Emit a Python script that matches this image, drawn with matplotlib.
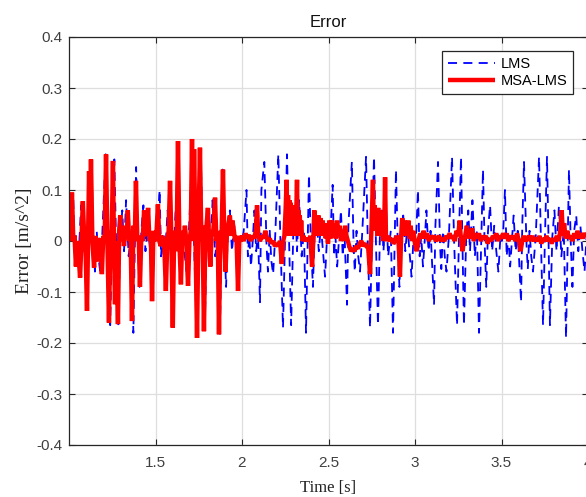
import matplotlib
matplotlib.use("Agg")
import matplotlib.pyplot as plt

# LMS error (blue dashed), one row per half second
lms_t = [
    1.000, 1.010, 1.024, 1.032, 1.040, 1.050, 1.060, 1.070, 1.080, 1.090, 1.104, 1.112, 1.130, 1.142, 1.150,
    1.160, 1.170, 1.180, 1.192, 1.212, 1.222, 1.238, 1.250, 1.262, 1.272, 1.285, 1.296, 1.308, 1.318, 1.330,
    1.345, 1.360, 1.372, 1.388, 1.398, 1.408, 1.418, 1.430, 1.442, 1.455, 1.470, 1.480, 1.492,
    1.500, 1.510, 1.524, 1.532, 1.540, 1.550, 1.560, 1.570, 1.580, 1.590, 1.604, 1.612, 1.630, 1.642, 1.650,
    1.660, 1.670, 1.680, 1.692, 1.712, 1.722, 1.738, 1.750, 1.762, 1.772, 1.785, 1.796, 1.808, 1.818, 1.830,
    1.845, 1.860, 1.872, 1.888, 1.898, 1.908, 1.918, 1.930, 1.942, 1.955, 1.970, 1.980, 1.992,
    2.000, 2.010, 2.026, 2.034, 2.042, 2.052, 2.062, 2.072, 2.082, 2.092, 2.104, 2.112, 2.129, 2.142, 2.150,
    2.160, 2.170, 2.180, 2.192, 2.210, 2.222, 2.237, 2.250, 2.260, 2.272, 2.284, 2.296, 2.308, 2.318, 2.330,
    2.345, 2.358, 2.370, 2.387, 2.398, 2.410, 2.420, 2.432, 2.444, 2.456, 2.468, 2.480, 2.492,
    2.500, 2.512, 2.524, 2.532, 2.540, 2.550, 2.560, 2.572, 2.582, 2.592, 2.607, 2.615, 2.635, 2.645, 2.652,
    2.662, 2.672, 2.682, 2.694, 2.717, 2.727, 2.740, 2.752, 2.763, 2.774, 2.786, 2.797, 2.808, 2.818, 2.830,
    2.845, 2.860, 2.873, 2.890, 2.900, 2.910, 2.920, 2.932, 2.944, 2.956, 2.968, 2.980, 2.992,
    3.000, 3.008, 3.017, 3.027, 3.036, 3.046, 3.056, 3.066, 3.078, 3.090, 3.110, 3.118, 3.133, 3.145, 3.152,
    3.162, 3.172, 3.182, 3.196, 3.214, 3.226, 3.243, 3.255, 3.266, 3.274, 3.283, 3.296, 3.308, 3.318, 3.332,
    3.346, 3.358, 3.370, 3.393, 3.402, 3.412, 3.422, 3.434, 3.446, 3.458, 3.470, 3.482, 3.494,
    3.502, 3.510, 3.520, 3.530, 3.540, 3.550, 3.560, 3.570, 3.582, 3.594, 3.613, 3.620, 3.630, 3.645, 3.652,
    3.662, 3.672, 3.682, 3.698, 3.717, 3.728, 3.740, 3.752, 3.763, 3.772, 3.780, 3.794, 3.806, 3.818, 3.832,
    3.846, 3.860, 3.873, 3.890, 3.900, 3.910, 3.920, 3.932, 3.944, 3.956, 3.968, 3.980, 3.992, 4.010,
]
lms_v = [
    0.01, 0.02, 0.09, -0.02, 0.01, -0.05, 0.00, 0.07, -0.02, 0.02, -0.13, 0.03, 0.155, -0.01, -0.06,
    0.02, -0.03, -0.06, 0.01, 0.17, 0.00, -0.165, 0.02, 0.16, 0.00, -0.165, 0.01, 0.06, -0.02, 0.08,
    -0.03, 0.02, -0.18, 0.145, 0.00, -0.09, 0.02, 0.07, -0.02, 0.03, -0.02, -0.07, 0.01,
    0.00, 0.02, 0.10, -0.03, 0.01, -0.05, 0.00, 0.06, -0.02, 0.02, -0.12, 0.03, 0.155, -0.01, -0.06,
    0.02, -0.03, -0.06, 0.01, 0.165, 0.00, -0.17, 0.02, 0.165, 0.00, -0.165, 0.01, 0.06, -0.02, 0.08,
    -0.03, 0.02, -0.185, 0.14, 0.00, -0.09, 0.02, 0.06, -0.02, 0.03, -0.02, -0.07, 0.01,
    0.00, 0.02, 0.10, -0.03, 0.01, -0.05, 0.00, 0.06, -0.02, 0.02, -0.12, 0.10, 0.155, -0.01, -0.06,
    0.02, -0.04, -0.065, 0.01, 0.17, 0.00, -0.17, 0.02, 0.17, 0.00, -0.165, 0.01, 0.07, -0.02, 0.08,
    -0.03, 0.02, -0.18, 0.13, 0.00, -0.09, 0.02, 0.04, -0.02, 0.03, -0.02, -0.07, 0.01,
    0.00, 0.02, 0.11, -0.03, 0.01, -0.05, 0.00, 0.06, -0.03, 0.02, -0.125, 0.03, 0.155, -0.01, -0.06,
    0.02, -0.03, -0.06, 0.01, 0.165, 0.00, -0.17, 0.02, 0.165, 0.00, -0.165, 0.01, 0.06, -0.02, 0.08,
    -0.03, 0.02, -0.18, 0.14, 0.00, -0.09, 0.02, 0.05, -0.02, 0.03, -0.02, -0.07, 0.01,
    0.00, 0.02, 0.10, -0.03, 0.01, -0.05, 0.00, 0.06, -0.02, 0.02, -0.125, 0.03, 0.155, -0.01, -0.055,
    0.02, -0.03, -0.06, 0.01, 0.165, 0.00, -0.165, 0.02, 0.165, 0.00, -0.165, 0.01, 0.06, -0.02, 0.08,
    -0.03, 0.02, -0.18, 0.14, 0.00, -0.09, 0.02, 0.07, -0.02, 0.03, -0.02, -0.06, 0.01,
    0.00, 0.02, 0.10, -0.03, 0.01, -0.05, 0.00, 0.05, -0.02, 0.02, -0.12, 0.03, 0.155, -0.01, -0.055,
    0.02, -0.03, -0.06, 0.01, 0.165, 0.00, -0.165, 0.02, 0.165, 0.00, -0.165, 0.01, 0.06, -0.02, 0.07,
    -0.03, 0.02, -0.19, 0.14, 0.00, -0.09, 0.02, 0.05, -0.02, 0.03, -0.02, -0.06, 0.01, 0.00,
]

# MSA-LMS error (red)
msa_t = [
    1.000, 1.010, 1.017, 1.025, 1.032, 1.040, 1.048, 1.056, 1.064, 1.072, 1.080, 1.088, 1.096, 1.104, 1.110,
    1.116, 1.121, 1.127, 1.135, 1.145, 1.152, 1.160, 1.168, 1.176, 1.183, 1.190, 1.198, 1.206, 1.214, 1.222,
    1.231, 1.240, 1.247, 1.254, 1.260, 1.266, 1.272, 1.283, 1.290, 1.296, 1.303, 1.310, 1.318, 1.326, 1.334,
    1.340, 1.348, 1.356, 1.364, 1.372, 1.380, 1.387, 1.395, 1.403, 1.410, 1.418, 1.426, 1.434, 1.442, 1.450,
    1.457, 1.465, 1.473, 1.480, 1.488, 1.496, 1.505, 1.514, 1.522, 1.530, 1.540, 1.550, 1.560, 1.568, 1.576,
    1.584, 1.592, 1.600, 1.608, 1.616, 1.622, 1.630, 1.638, 1.647, 1.655, 1.662, 1.670, 1.678, 1.688, 1.696,
    1.704, 1.711, 1.717, 1.723, 1.731, 1.740, 1.748, 1.757, 1.765, 1.772, 1.780, 1.788, 1.795, 1.803, 1.810,
    1.817, 1.825, 1.832, 1.838, 1.844, 1.852, 1.860, 1.867, 1.875, 1.882, 1.890, 1.898, 1.905, 1.912, 1.920,
    1.930, 1.938, 1.945, 1.953, 1.960, 1.968, 1.977, 1.985, 1.992,
    2.000, 2.010, 2.020, 2.030, 2.040, 2.050, 2.060, 2.070, 2.080, 2.087, 2.094, 2.104, 2.115, 2.125, 2.135,
    2.142, 2.150, 2.160, 2.170, 2.180, 2.190, 2.200, 2.210, 2.220, 2.230, 2.238, 2.245, 2.252, 2.258, 2.262,
    2.266, 2.270, 2.274, 2.278, 2.282, 2.286, 2.290, 2.294, 2.298, 2.302, 2.306, 2.310, 2.314, 2.318, 2.322,
    2.326, 2.330, 2.334, 2.338, 2.342, 2.348, 2.355, 2.365, 2.375, 2.385, 2.395, 2.405, 2.412, 2.418, 2.424,
    2.430, 2.436, 2.442, 2.448, 2.454, 2.460, 2.466, 2.472, 2.478, 2.484, 2.490, 2.497, 2.505, 2.512, 2.520,
    2.527, 2.535, 2.542, 2.550, 2.557, 2.565, 2.572, 2.580, 2.588, 2.596, 2.604, 2.612, 2.620, 2.630, 2.640,
    2.650, 2.660, 2.670, 2.680, 2.690, 2.700, 2.710, 2.720, 2.730, 2.740, 2.748, 2.757, 2.762, 2.767, 2.772,
    2.777, 2.782, 2.787, 2.792, 2.797, 2.802, 2.808, 2.815, 2.822, 2.827, 2.832, 2.838, 2.845, 2.855, 2.865,
    2.875, 2.885, 2.895, 2.905, 2.913, 2.920, 2.926, 2.932, 2.938, 2.944, 2.950, 2.956, 2.962, 2.968, 2.975,
    2.982, 2.990,
    3.000, 3.010, 3.020, 3.030, 3.040, 3.050, 3.060, 3.070, 3.080, 3.090, 3.100, 3.110, 3.120, 3.130, 3.140,
    3.150, 3.160, 3.170, 3.180, 3.190, 3.200, 3.210, 3.220, 3.230, 3.240, 3.250, 3.258, 3.265, 3.275, 3.282,
    3.290, 3.300, 3.307, 3.315, 3.322, 3.330, 3.340, 3.350, 3.360, 3.370, 3.380, 3.390, 3.400, 3.410, 3.420,
    3.430, 3.440, 3.450, 3.460, 3.470, 3.480, 3.490, 3.500, 3.510, 3.520, 3.530, 3.540, 3.550, 3.560, 3.570,
    3.580, 3.590, 3.600, 3.610, 3.620, 3.630, 3.640, 3.650, 3.660, 3.670, 3.680, 3.690, 3.700, 3.710, 3.720,
    3.730, 3.740, 3.750, 3.760, 3.770, 3.780, 3.790, 3.800, 3.810, 3.820, 3.830, 3.840, 3.848, 3.855, 3.862,
    3.870, 3.880, 3.890, 3.900, 3.910, 3.920, 3.930, 3.940, 3.950, 3.960, 3.970, 3.980, 3.990, 4.000, 4.010,
]
msa_v = [
    0.00, 0.01, 0.095, 0.00, 0.01, -0.05, 0.00, -0.03, -0.072, 0.00, 0.078, 0.005, -0.02, -0.137, 0.00,
    0.137, 0.02, 0.16, 0.00, -0.052, 0.01, -0.02, -0.04, 0.00, 0.005, -0.065, 0.01, 0.00, 0.17, 0.00,
    -0.16, 0.02, 0.01, 0.157, -0.01, -0.124, 0.00, -0.163, 0.02, 0.05, 0.00, 0.03, -0.01, 0.02, 0.01,
    0.06, 0.00, 0.01, -0.157, 0.03, 0.00, 0.118, 0.00, 0.01, -0.09, 0.01, 0.00, 0.06, 0.01, 0.02,
    0.065, 0.00, 0.01, -0.118, 0.02, 0.00, 0.01, 0.072, 0.00, -0.01, 0.01, 0.00, -0.098, 0.00, 0.02,
    0.118, 0.00, -0.17, 0.02, -0.02, 0.00, 0.196, 0.00, -0.085, 0.02, 0.00, 0.03, 0.00, -0.088, 0.00,
    0.02, 0.20, 0.00, 0.18, 0.01, -0.19, 0.02, 0.183, 0.00, 0.03, -0.177, 0.01, 0.03, 0.065, 0.00,
    -0.05, 0.02, 0.01, 0.04, 0.085, 0.00, 0.01, -0.183, 0.02, 0.01, 0.14, 0.00, -0.06, 0.01, 0.03,
    0.05, 0.01, 0.04, 0.02, 0.00, 0.01, -0.098, 0.01, 0.00,
    0.01, 0.00, 0.015, 0.005, 0.012, 0.00, 0.01, 0.005, 0.02, 0.07, 0.01, 0.00, 0.01, 0.005, 0.02,
    0.01, 0.00, 0.005, -0.005, 0.00, -0.01, -0.005, -0.01, 0.00, -0.045, 0.00, 0.01, 0.06, 0.12, 0.02,
    0.09, 0.01, 0.08, 0.02, 0.075, 0.01, 0.06, 0.02, 0.065, 0.01, 0.07, 0.02, 0.06, 0.12, 0.01,
    0.06, 0.02, 0.05, 0.01, 0.04, 0.00, 0.01, 0.00, 0.005, 0.00, 0.01, -0.05, 0.00, 0.06, 0.01,
    0.045, 0.01, 0.05, 0.02, 0.045, 0.01, 0.04, 0.02, 0.035, 0.005, 0.02, -0.005, 0.04, 0.005, 0.04,
    0.01, 0.035, 0.005, 0.04, 0.01, 0.03, 0.00, 0.02, 0.00, 0.03, 0.01, 0.00, -0.01, -0.02, -0.015,
    -0.02, -0.01, -0.015, -0.005, 0.00, -0.01, -0.005, -0.01, -0.015, -0.065, 0.02, 0.12, 0.02, 0.07, 0.02,
    0.06, 0.01, 0.065, 0.02, 0.06, 0.01, 0.03, 0.00, 0.02, 0.125, 0.01, 0.00, 0.01, 0.00, 0.005,
    -0.005, 0.00, 0.01, 0.00, -0.07, 0.01, 0.045, 0.01, 0.04, 0.02, 0.035, 0.01, 0.04, 0.005, 0.03,
    0.00, 0.02,
    -0.005, -0.02, 0.00, 0.015, 0.005, 0.02, 0.005, 0.015, 0.00, 0.01, 0.005, 0.01, 0.00, 0.005, 0.01,
    0.00, 0.005, 0.00, 0.01, 0.005, 0.015, 0.005, 0.01, 0.00, 0.02, 0.01, 0.04, 0.005, -0.02, 0.00,
    0.01, 0.03, 0.005, 0.02, 0.005, 0.025, 0.00, 0.015, 0.005, 0.015, 0.00, 0.01, 0.005, 0.01, -0.005,
    0.005, 0.00, 0.01, 0.005, 0.015, 0.00, 0.01, 0.005, 0.015, 0.005, 0.015, 0.00, 0.01, 0.005, 0.01,
    0.00, 0.015, 0.00, -0.02, 0.00, 0.01, 0.00, 0.005, 0.01, 0.00, 0.01, 0.00, 0.005, 0.00, 0.01,
    -0.005, 0.005, 0.00, 0.01, 0.00, 0.005, -0.005, 0.005, 0.00, 0.01, 0.00, 0.02, 0.06, 0.01, 0.035,
    0.005, 0.02, 0.005, 0.01, 0.00, 0.015, 0.005, 0.02, 0.005, 0.015, 0.005, 0.015, 0.01, 0.015, 0.01,
]

x_ticks = [1.5, 2, 2.5, 3, 3.5, 4]
x_labels = ["1.5", "2", "2.5", "3", "3.5", "4"]
y_ticks = [-0.4, -0.3, -0.2, -0.1, 0, 0.1, 0.2, 0.3, 0.4]
y_labels = ["-0.4", "-0.3", "-0.2", "-0.1", "0", "0.1", "0.2", "0.3", "0.4"]

plt.rcParams["font.family"] = ["Liberation Sans", "DejaVu Sans"]

fig = plt.figure(figsize=(5.86, 4.97), dpi=100)
ax = fig.add_axes([69 / 586, 52 / 497, 519 / 586, 408 / 497])

ax.plot(lms_t, lms_v, color="#0000ff", lw=1.3, linestyle=(0, (5, 3.5)), label="LMS")
ax.plot(msa_t, msa_v, color="#ff0000", lw=3.2, solid_joinstyle="bevel",
        solid_capstyle="butt", label="MSA-LMS")

ax.set_xlim(1.0, 4.0)
ax.set_ylim(-0.4, 0.4)
ax.set_xticks(x_ticks)
ax.set_xticklabels(x_labels)
ax.set_yticks(y_ticks)
ax.set_yticklabels(y_labels)
ax.grid(True, color="#dedede", lw=0.9)
ax.set_axisbelow(True)
ax.tick_params(direction="in", length=4, width=0.8, colors="#262626",
               labelsize=11, labelcolor="#404040", top=True, right=True)
ax.tick_params(axis="x", pad=8)
ax.tick_params(axis="y", pad=5)
for s in ax.spines.values():
    s.set_color("#262626")
    s.set_linewidth(0.9)

ax.set_title("Error", fontsize=12, color="#111111", pad=7)
ax.set_xlabel("Time [s]", fontsize=12, family=["Liberation Serif", "DejaVu Serif"],
              color="#222222", labelpad=7)
ax.set_ylabel("Error [m/s^2]", fontsize=14, family=["Liberation Serif", "DejaVu Serif"],
              color="#222222", labelpad=2)

leg = ax.legend(loc="upper right", bbox_to_anchor=(573 / 586, 1 - 51 / 497),
                bbox_transform=fig.transFigure, borderaxespad=0, fancybox=False,
                framealpha=1, edgecolor="#262626", fontsize=10.5, handlelength=3.2,
                handletextpad=0.4, borderpad=0.4, labelspacing=0.25)
leg.get_frame().set_linewidth(0.9)

fig.savefig("out.png", dpi=100)
